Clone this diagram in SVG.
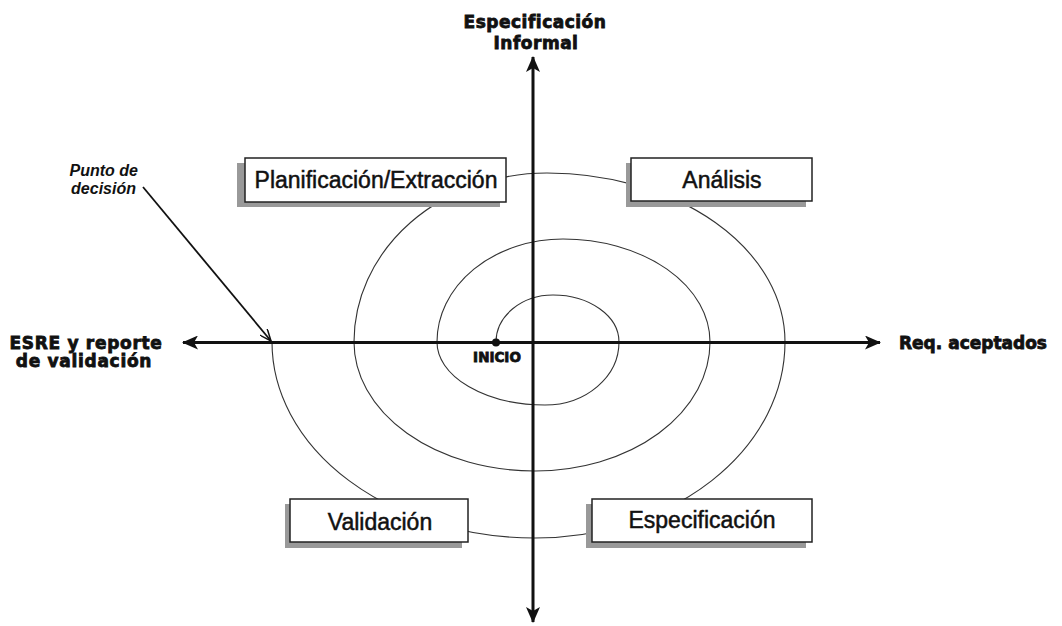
<svg xmlns="http://www.w3.org/2000/svg" width="1062" height="626" viewBox="0 0 1062 626">
<style>
.box{fill:#fff;stroke:#222;stroke-width:1.5}
.shadow{fill:#999}
.btxt{font-family:"Liberation Sans",Arial,sans-serif;font-size:23px;fill:#111;stroke:#111;stroke-width:0.5;text-anchor:middle}
.axl{font-family:"DejaVu Sans","Liberation Sans",sans-serif;font-weight:bold;font-size:17px;fill:#111;stroke:#111;stroke-width:0.8}
.axis{stroke:#111;stroke-width:3;fill:none}
.spiral{stroke:#333;stroke-width:1.1;fill:none}
.dec{font-family:"Liberation Sans",Arial,sans-serif;font-style:italic;font-weight:bold;font-size:16px;fill:#111;text-anchor:end}
</style>
<defs>
<marker id="ah" viewBox="0 0 16 14" refX="15" refY="7" markerWidth="16" markerHeight="14" markerUnits="userSpaceOnUse" orient="auto-start-reverse">
<path d="M0,0 L16,7 L0,14 L4,7 z" fill="#111"/>
</marker>
<marker id="open" viewBox="0 0 12 10" refX="12" refY="5" markerWidth="12" markerHeight="10" markerUnits="userSpaceOnUse" orient="auto">
<path d="M0,0 L12,5 L0,10" fill="none" stroke="#111" stroke-width="1.5"/>
</marker>
</defs>
<rect width="1062" height="626" fill="#fff"/>
<g id="connectors">
<path class="spiral" d="M496,342 A57,47 0 0 1 553,295 A66,47 0 0 1 619,342 A74,63 0 0 1 545,405 A108,63 0 0 1 437,342 A126,103 0 0 1 563,239 A147,103 0 0 1 710,342 A175,129 0 0 1 535,471 A181,129 0 0 1 354,342 A193,169 0 0 1 547,173 A238,169 0 0 1 785,342 A250,196 0 0 1 535,538 A263,196 0 0 1 272,342"/>
<line class="axis" x1="183" y1="342.5" x2="880" y2="342.5" marker-start="url(#ah)" marker-end="url(#ah)"/>
<line class="axis" x1="533" y1="57" x2="533" y2="622" marker-start="url(#ah)" marker-end="url(#ah)"/>
<line x1="143" y1="187" x2="271" y2="341" stroke="#111" stroke-width="1.8" marker-end="url(#open)"/>
</g>
<g id="inicio">
<circle cx="496" cy="342.5" r="4" fill="#111"/>
<text class="axl" x="497" y="362" text-anchor="middle" style="font-size:13.5px">INICIO</text>
</g>
<g id="n-planificacion">
<rect class="shadow" x="237" y="163" width="263" height="44"/>
<rect class="box" x="245" y="158" width="261" height="44"/>
<text class="btxt" x="376" y="188">Planificación/Extracción</text>
</g>
<g id="n-analisis">
<rect class="shadow" x="626" y="163" width="180" height="44"/>
<rect class="box" x="631" y="158" width="181" height="43"/>
<text class="btxt" x="722" y="188">Análisis</text>
</g>
<g id="n-validacion">
<rect class="shadow" x="285" y="504" width="177" height="44"/>
<rect class="box" x="290" y="499" width="178" height="43"/>
<text class="btxt" x="380" y="530">Validación</text>
</g>
<g id="n-especificacion">
<rect class="shadow" x="586" y="504" width="220" height="44"/>
<rect class="box" x="592" y="499" width="220" height="43"/>
<text class="btxt" x="702" y="528">Especificación</text>
</g>
<g id="l-top">
<text class="axl" x="535" y="28" text-anchor="middle" letter-spacing="0.5">Especificación</text>
<text class="axl" x="536" y="49" text-anchor="middle" letter-spacing="0.5">Informal</text>
</g>
<g id="l-left">
<text class="axl" x="86" y="349" text-anchor="middle" letter-spacing="0.7">ESRE y reporte</text>
<text class="axl" x="84" y="367" text-anchor="middle" letter-spacing="0.7">de validación</text>
</g>
<g id="l-right">
<text class="axl" x="899" y="349">Req. aceptados</text>
</g>
<g id="l-decision">
<text class="dec" x="138" y="176">Punto de</text>
<text class="dec" x="136" y="194">decisión</text>
</g>
</svg>
